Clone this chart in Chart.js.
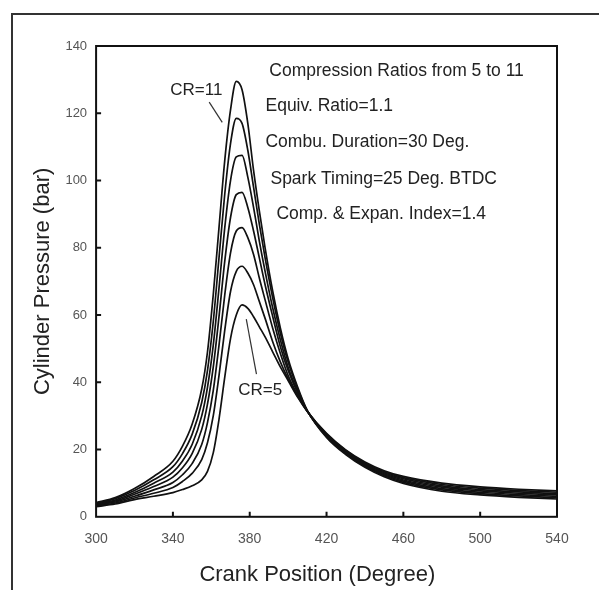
<!DOCTYPE html>
<html>
<head>
<meta charset="utf-8">
<script src="https://cdn.jsdelivr.net/npm/chart.js@4.4.1/dist/chart.umd.min.js"></script>
<style>
  html, body { margin: 0; padding: 0; background: #fff; }
  #frame {
    position: absolute; left: 11px; top: 13px; width: 588px; height: 577px;
    border-left: 2px solid #333; border-top: 2px solid #333;
  }
  #wrap { position: absolute; left: 0; top: 0; width: 599px; height: 590px; }
</style>
</head>
<body>
<div id="frame"></div>
<div id="wrap"><canvas id="chart" width="599" height="590"></canvas></div>
<script>
'use strict';

// Crank angle (degrees) shared by all curves
const crank = [300, 310, 320, 330, 340, 345, 350, 355, 358, 361, 364, 367, 370, 373, 376, 379,
  382, 385, 388, 392, 396, 400, 405, 410, 420, 430, 440, 450, 460, 480, 500, 520, 540];

// Cylinder pressure (bar), one array per compression ratio
const cr11 = [4.2, 5.7, 8.4, 12.0, 16.5, 21, 27.5, 38, 49, 66, 86, 106, 121, 129.5, 127, 117,
  103, 91, 80, 67, 56, 47, 38.5, 31.6, 23.6, 18.5, 14.7, 11.9, 9.9, 7.6, 6.5, 5.8, 5.3];
const cr10 = [4.0, 5.4, 7.8, 11.0, 14.9, 18.8, 24.5, 34, 43.5, 58, 77, 96, 111, 118.5, 117, 109,
  98, 87, 77, 65, 54.5, 46, 38, 31.5, 23.8, 18.7, 15.0, 12.2, 10.25, 8.0, 6.9, 6.2, 5.7];
const cr9 = [3.8, 5.0, 7.2, 10.0, 13.3, 16.6, 21.5, 30, 38.5, 51, 68, 86, 100, 107, 107.5, 101,
  92, 82, 73, 62, 52.5, 44.5, 37.3, 31.5, 24.0, 19.0, 15.2, 12.5, 10.6, 8.4, 7.3, 6.6, 6.1];
const cr8 = [3.6, 4.7, 6.7, 9.0, 11.8, 14.6, 18.8, 26, 33.5, 44.5, 59.5, 76, 89, 95.8, 96.5, 92,
  85, 77, 69, 59.5, 50.5, 43.5, 36.8, 31.4, 24.2, 19.2, 15.5, 12.8, 10.95, 8.8, 7.7, 7.0, 6.5];
const cr7 = [3.4, 4.4, 6.1, 8.0, 10.2, 12.5, 15.8, 21.5, 28, 37.5, 51, 66, 78.5, 85, 86, 83,
  78, 71, 64.5, 56, 48.5, 42, 36.2, 31.4, 24.4, 19.4, 15.8, 13.1, 11.3, 9.2, 8.1, 7.4, 6.9];
const cr6 = [3.2, 4.1, 5.6, 7.0, 8.7, 10.5, 12.9, 17, 22, 30, 42, 55.5, 67, 73, 74.5, 72.5,
  69, 64, 59, 52, 46, 41, 35.8, 31.3, 24.6, 19.7, 16.0, 13.4, 11.65, 9.6, 8.5, 7.8, 7.3];
const cr5 = [3.0, 3.8, 5.1, 6.1, 7.2, 8.1, 9.2, 11, 13.5, 19, 29, 41.5, 53, 60, 63, 62,
  59.5, 56.5, 53.5, 49, 44.5, 40.5, 35.5, 31.3, 24.8, 19.9, 16.3, 13.7, 12.0, 10.0, 8.9, 8.2, 7.7];

const seriesNames = ['CR=11', 'CR=10', 'CR=9', 'CR=8', 'CR=7', 'CR=6', 'CR=5'];
const seriesValues = [cr11, cr10, cr9, cr8, cr7, cr6, cr5];

// Axis ranges and tick steps
const xTicks = [300, 340, 380, 420, 460, 500, 540];
const yTicks = [0, 20, 40, 60, 80, 100, 120, 140];

// Text printed inside the plot
const noteLines = [
  'Compression Ratios from 5 to 11',
  'Equiv. Ratio=1.1',
  'Combu. Duration=30 Deg.',
  'Spark Timing=25 Deg. BTDC',
  'Comp. & Expan. Index=1.4'
];

// where the notes go, in data units (left edge, middle of line)
const notePlace = [[390.2, 132.5], [388.2, 122.1], [388.2, 111.3], [390.8, 100.3], [393.9, 90.1]];
const crLabels = [
  { text: 'CR=11', at: [352.2, 126.8], from: [358.9, 123.3], to: [365.7, 117.3] },
  { text: 'CR=5', at: [385.5, 37.6], from: [378.2, 58.8], to: [383.5, 42.4] }
];

const FONT = '"Liberation Sans", Arial, sans-serif';

const decorPlugin = {
  id: 'decor',
  afterDatasetsDraw(chart) {
    const { ctx, chartArea: a, scales } = chart;
    const x = scales.x, y = scales.y;
    ctx.save();

    // box round the plot
    ctx.strokeStyle = '#111';
    ctx.lineWidth = 2;
    ctx.strokeRect(a.left, a.top, a.right - a.left, a.bottom - a.top);

    // small inward ticks
    ctx.beginPath();
    for (const v of xTicks.slice(1, -1)) {
      const px = x.getPixelForValue(v);
      ctx.moveTo(px, a.bottom);
      ctx.lineTo(px, a.bottom - 5);
    }
    for (const v of yTicks.slice(1, -1)) {
      const py = y.getPixelForValue(v);
      ctx.moveTo(a.left, py);
      ctx.lineTo(a.left + 5, py);
    }
    ctx.stroke();

    // notes
    ctx.fillStyle = '#222';
    ctx.font = '17.5px ' + FONT;
    ctx.textBaseline = 'middle';
    ctx.textAlign = 'left';
    noteLines.forEach((t, i) => {
      ctx.fillText(t, x.getPixelForValue(notePlace[i][0]), y.getPixelForValue(notePlace[i][1]));
    });

    // CR labels with leader lines
    ctx.font = '17px ' + FONT;
    ctx.textAlign = 'center';
    ctx.strokeStyle = '#333';
    ctx.lineWidth = 1.2;
    for (const c of crLabels) {
      ctx.fillText(c.text, x.getPixelForValue(c.at[0]), y.getPixelForValue(c.at[1]));
      ctx.beginPath();
      ctx.moveTo(x.getPixelForValue(c.from[0]), y.getPixelForValue(c.from[1]));
      ctx.lineTo(x.getPixelForValue(c.to[0]), y.getPixelForValue(c.to[1]));
      ctx.stroke();
    }
    ctx.restore();
  }
};

function buildDatasets() {
  return seriesValues.map((vals, i) => ({
    label: seriesNames[i],
    data: crank.map((c, j) => ({ x: c, y: vals[j] })),
    borderColor: '#111',
    borderWidth: 1.7,
    pointRadius: 0,
    fill: false,
    cubicInterpolationMode: 'monotone'
  }));
}

function setup() {
  const ctx = document.getElementById('chart').getContext('2d');
  new Chart(ctx, {
    type: 'line',
    data: { datasets: buildDatasets() },
    options: {
      responsive: false,
      animation: false,
      layout: { padding: { left: 30, right: 42, top: 46, bottom: 2 } },
      plugins: { legend: { display: false }, tooltip: { enabled: false } },
      scales: {
        x: {
          type: 'linear',
          min: xTicks[0],
          max: xTicks[xTicks.length - 1],
          grid: { display: false, drawTicks: false },
          border: { display: false },
          ticks: { stepSize: 40, padding: 14, color: '#555', font: { family: FONT, size: 14 } },
          title: {
            // trailing spaces nudge the centred title a little left, as in the scan
            display: true, text: 'Crank Position (Degree)\u00a0\u00a0\u00a0', color: '#222',
            font: { family: FONT, size: 22 }, padding: { top: 0, bottom: 0 }
          }
        },
        y: {
          type: 'linear',
          min: yTicks[0],
          max: yTicks[yTicks.length - 1],
          grid: { display: false, drawTicks: false },
          border: { display: false },
          ticks: { stepSize: 20, padding: 9, color: '#555', font: { family: FONT, size: 13 } },
          title: {
            display: true, text: 'Cylinder Pressure (bar)', color: '#222',
            font: { family: FONT, size: 22 }, padding: 0
          }
        }
      }
    },
    plugins: [decorPlugin]
  });
}

window.addEventListener('load', setup);
</script>
</body>
</html>
